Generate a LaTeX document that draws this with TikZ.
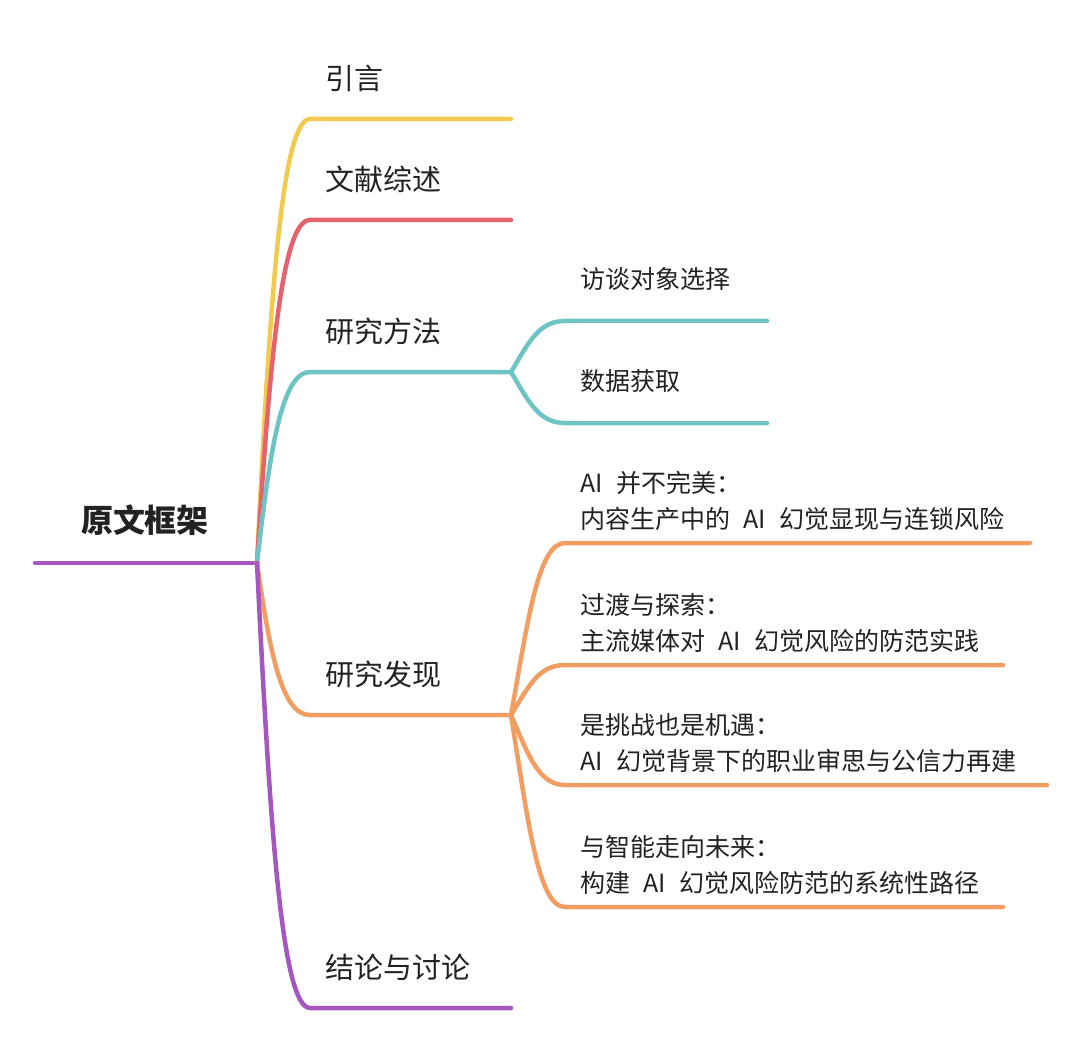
\documentclass[tikz,border=0pt]{standalone}
\usepackage{fontspec}
\setmainfont[WordSpace=2.4]{Noto Sans CJK SC}
\usepackage{tikz}
\definecolor{cyel}{HTML}{F2CA4E}
\definecolor{cred}{HTML}{E6626C}
\definecolor{cteal}{HTML}{6EC4C4}
\definecolor{corg}{HTML}{F29E63}
\definecolor{cpur}{HTML}{A357BF}
\definecolor{ctxt}{HTML}{222222}

\begin{document}
\begin{tikzpicture}[x=1pt,y=-1pt,line width=4.5pt,line cap=round,text=ctxt,
    topic/.style={anchor=west,inner sep=0pt,font=\fontsize{29}{34}\selectfont},
    sub/.style={anchor=west,inner sep=0pt,align=left,font=\fontsize{25}{36}\selectfont}]
    \useasboundingbox (0,0) rectangle (1080,1043);
    \def\hx{257} \def\hy{563}
    \node[font=\fontsize{32}{36}\selectfont\bfseries] (root) at (145,520) {原文框架};
    \coordinate (hub) at (\hx,\hy);
    \coordinate (rootend) at (35,\hy);
    \draw[cpur] (rootend)--(hub);
    % nhanh chính
    \foreach \n/\y/\mau/\t in {yin/119/cyel/引言,wx/220/cred/文献综述,ff/372/cteal/研究方法,fx/715/corg/研究发现,jl/1008/cpur/结论与讨论}{
        \coordinate (\n-a) at (310,\y);
        \coordinate (\n-b) at (511,\y);
        \node[topic] (\n) at (323,\y-41) {\t};
        \draw[\mau] (hub) .. controls (270,{\hy+(\y-\hy)*0.6}) and (282,\y) .. (\n-a) -- (\n-b);}
    % nhánh con
    \foreach \n/\p/\py/\y/\e/\mau/\t in {ff1/ff/372/321/767/cteal/访谈对象选择,ff2/ff/372/423/767/cteal/数据获取,
        fx1/fx/715/543/1030/corg/{AI 并不完美：\\内容生产中的 AI 幻觉显现与连锁风险},
        fx2/fx/715/665/1003/corg/{过渡与探索：\\主流媒体对 AI 幻觉风险的防范实践},
        fx3/fx/715/785/1047/corg/{是挑战也是机遇：\\AI 幻觉背景下的职业审思与公信力再建},
        fx4/fx/715/907/1003/corg/{与智能走向未来：\\构建 AI 幻觉风险防范的系统性路径}}{
        \coordinate (\n-a) at (565,\y);
        \coordinate (\n-b) at (\e,\y);
        \node[sub] (\n) at (578,\y-42) {\t};
        \draw[\mau] (\p-b) .. controls (528,{\py+(\y-\py)*0.55}) and (538,\y) .. (\n-a) -- (\n-b);}
\end{tikzpicture}
\end{document}
